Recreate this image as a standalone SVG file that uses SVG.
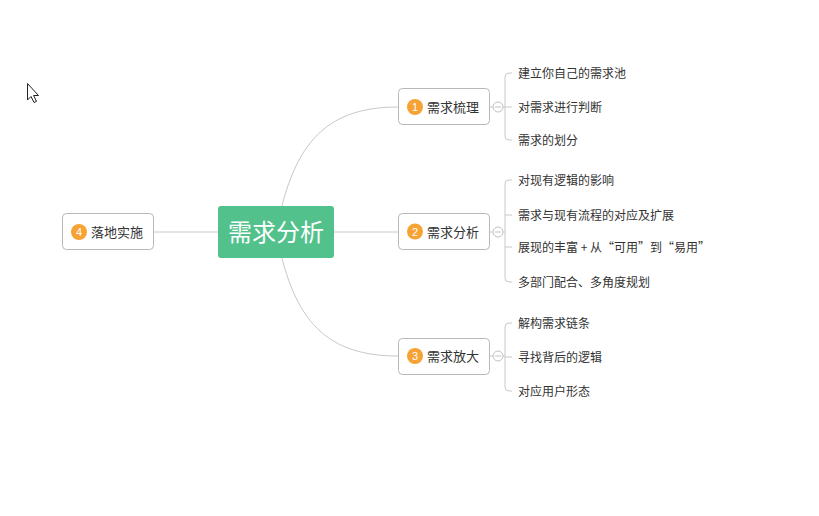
<svg xmlns="http://www.w3.org/2000/svg" width="819" height="516" viewBox="0 0 819 516">
<style>
.bg{fill:#ffffff}
.conn{fill:none;stroke:#c8c8c8;stroke-width:1}
.box{fill:#ffffff;stroke:#b8b8b8;stroke-width:1}
.num{fill:#f7a234}
.numt{font-family:"Liberation Sans",Arial,sans-serif;font-size:11px;fill:#ffffff;text-anchor:middle}
.lbl{font-family:"Noto Sans CJK SC","Noto Sans",sans-serif;font-size:13px;fill:#333333}
.sub{font-family:"Noto Sans CJK SC","Noto Sans",sans-serif;font-size:12px;fill:#333333}
.fold{fill:#ffffff;stroke:#c0c0c0;stroke-width:1}
</style>
<rect class="bg" x="0" y="0" width="819" height="516"/>
<g id="cursor">
<path d="M27.5,83.5 L27.5,100 L31,96.5 L34,102.5 L36.5,101.3 L33.6,95.5 L38.5,95.5 Z" fill="#ffffff" stroke="#222" stroke-width="1" stroke-linejoin="round"/>
</g>
<g id="connectors">
<path class="conn" d="M154,232 L218,232"/>
<path class="conn" d="M334,232 L398,232"/>
<path class="conn" d="M276,232 C292,150 320,107 398,107"/>
<path class="conn" d="M276,232 C292,314 320,356 398,356"/>
<path class="conn" d="M489,107 L493,107 M503,107 L505,107"/>
<path class="conn" d="M489,232 L493,232 M503,232 L505,232"/>
<path class="conn" d="M489,356 L493,356 M503,356 L505,356"/>
<path class="conn" d="M512,73 L509,73 Q505,73 505,77 L505,136 Q505,140 509,140 L512,140 M505,107 L512,107"/>
<path class="conn" d="M512,180 L509,180 Q505,180 505,184 L505,278 Q505,282 509,282 L512,282 M505,215 L512,215 M505,247 L512,247"/>
<path class="conn" d="M512,323 L509,323 Q505,323 505,327 L505,387 Q505,391 509,391 L512,391 M505,357 L512,357"/>
</g>
<g id="fold1"><circle class="fold" cx="498" cy="107" r="5"/><path d="M495,107 L501,107" stroke="#c0c0c0"/></g>
<g id="fold2"><circle class="fold" cx="498" cy="232" r="5"/><path d="M495,232 L501,232" stroke="#c0c0c0"/></g>
<g id="fold3"><circle class="fold" cx="498" cy="356" r="5"/><path d="M495,356 L501,356" stroke="#c0c0c0"/></g>
<g id="root">
<rect x="218" y="206" width="116" height="52" rx="3" fill="#52c18c"/>
<text x="276" y="241" font-family="'Noto Sans CJK SC','Noto Sans',sans-serif" font-size="24" fill="#ffffff" text-anchor="middle">需求分析</text>
</g>
<g id="n4">
<rect class="box" x="62.5" y="213.5" width="91" height="36" rx="4"/>
<circle class="num" cx="79" cy="232" r="8"/>
<text class="numt" x="79" y="236">4</text>
<text class="lbl" x="91" y="237">落地实施</text>
</g>
<g id="n1">
<rect class="box" x="398.5" y="88.5" width="91" height="36" rx="4"/>
<circle class="num" cx="415" cy="107" r="8"/>
<text class="numt" x="415" y="111">1</text>
<text class="lbl" x="427" y="112">需求梳理</text>
</g>
<g id="n2">
<rect class="box" x="398.5" y="213.5" width="91" height="36" rx="4"/>
<circle class="num" cx="415" cy="231.5" r="8"/>
<text class="numt" x="415" y="235.5">2</text>
<text class="lbl" x="427" y="236.5">需求分析</text>
</g>
<g id="n3">
<rect class="box" x="398.5" y="338.5" width="91" height="36" rx="4"/>
<circle class="num" cx="415" cy="356" r="8"/>
<text class="numt" x="415" y="360">3</text>
<text class="lbl" x="427" y="361">需求放大</text>
</g>
<g id="c1a"><text class="sub" x="518" y="78">建立你自己的需求池</text></g>
<g id="c1b"><text class="sub" x="518" y="111.5">对需求进行判断</text></g>
<g id="c1c"><text class="sub" x="518" y="145">需求的划分</text></g>
<g id="c2a"><text class="sub" x="518" y="185">对现有逻辑的影响</text></g>
<g id="c2b"><text class="sub" x="518" y="220">需求与现有流程的对应及扩展</text></g>
<g id="c2c"><text class="sub" x="518" y="252">展现的丰富 + 从“可用”到“易用”</text></g>
<g id="c2d"><text class="sub" x="518" y="287">多部门配合、多角度规划</text></g>
<g id="c3a"><text class="sub" x="518" y="328">解构需求链条</text></g>
<g id="c3b"><text class="sub" x="518" y="361.5">寻找背后的逻辑</text></g>
<g id="c3c"><text class="sub" x="518" y="395.5">对应用户形态</text></g>
</svg>
